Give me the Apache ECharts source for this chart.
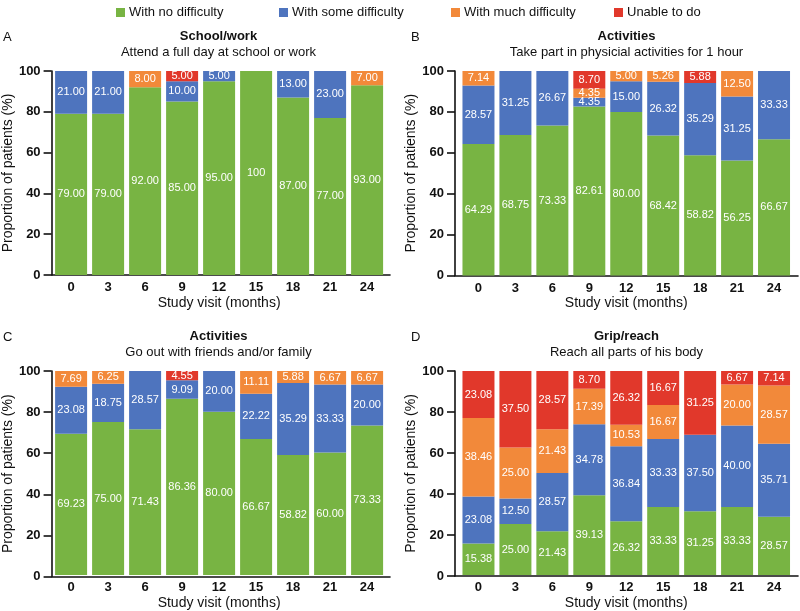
<!DOCTYPE html>
<html>
<head>
<meta charset="utf-8">
<script src="https://cdn.jsdelivr.net/npm/echarts@6/dist/echarts.min.js"></script>
<style>html,body{margin:0;padding:0;background:#fff}#c{width:800px;height:611px}</style>
</head>
<body>
<div id="c"></div>
<script>
const months = ['0', '3', '6', '9', '12', '15', '18', '21', '24'];
const seriesNames = ['With no difficulty', 'With some difficulty', 'With much difficulty', 'Unable to do'];

// Panel A: School/work
const aNone   = [79, 79, 92, 85, 95, 100, 87, 77, 93];
const aSome   = [21, 21, 0, 10, 5, 0, 13, 23, 0];
const aMuch   = [0, 0, 8, 0, 0, 0, 0, 0, 7];
const aUnable = [0, 0, 0, 5, 0, 0, 0, 0, 0];

// Panel B: Activities - physical
const bNone   = [64.29, 68.75, 73.33, 82.61, 80.00, 68.42, 58.82, 56.25, 66.67];
const bSome   = [28.57, 31.25, 26.67, 4.35, 15.00, 26.32, 35.29, 31.25, 33.33];
const bMuch   = [7.14, 0, 0, 4.35, 5.00, 5.26, 0, 12.50, 0];
const bUnable = [0, 0, 0, 8.70, 0, 0, 5.88, 0, 0];

// Panel C: Activities - go out
const cNone   = [69.23, 75.00, 71.43, 86.36, 80.00, 66.67, 58.82, 60.00, 73.33];
const cSome   = [23.08, 18.75, 28.57, 9.09, 20.00, 22.22, 35.29, 33.33, 20.00];
const cMuch   = [7.69, 6.25, 0, 0, 0, 11.11, 5.88, 6.67, 6.67];
const cUnable = [0, 0, 0, 4.55, 0, 0, 0, 0, 0];

// Panel D: Grip/reach
const dNone   = [15.38, 25.00, 21.43, 39.13, 26.32, 33.33, 31.25, 33.33, 28.57];
const dSome   = [23.08, 12.50, 28.57, 34.78, 36.84, 33.33, 37.50, 40.00, 35.71];
const dMuch   = [38.46, 25.00, 21.43, 17.39, 10.53, 16.67, 0, 20.00, 28.57];
const dUnable = [23.08, 37.50, 28.57, 8.70, 26.32, 16.67, 31.25, 6.67, 7.14];

const panelLetters = ['A', 'B', 'C', 'D'];
const panelTitles = ['School/work', 'Activities', 'Activities', 'Grip/reach'];
const panelSubtitles = ['Attend a full day at school or work', 'Take part in physicial activities for 1 hour', 'Go out with friends and/or family', 'Reach all parts of his body'];

const colors = ['#78b443', '#4e74be', '#f2893a', '#e1382b'];
const FONT = 'Liberation Sans, Arial, Helvetica, sans-serif';

const panelData = [
  [aNone, aSome, aMuch, aUnable],
  [bNone, bSome, bMuch, bUnable],
  [cNone, cSome, cMuch, cUnable],
  [dNone, dSome, dMuch, dUnable]
];

// layout (pixels): frame = axis box, bars = category band area
const frames = [
  {left: 47, top: 71, width: 343, height: 204},
  {left: 455, top: 71, width: 343, height: 204.5},
  {left: 47, top: 371, width: 343, height: 205.5},
  {left: 455, top: 371, width: 343, height: 205}
];
const barBoxes = [
  {left: 52.6, width: 333},
  {left: 460, width: 332.5},
  {left: 52.6, width: 333},
  {left: 460, width: 332.5}
];
const legendLefts = [116, 279, 451, 614];

const grids = [], xAxes = [], yAxes = [], series = [], titles = [];
const axisColor = '#111';
frames.forEach((g, p) => {
  const cx = g.left + g.width / 2;
  // frame grid (index 2p) and bar grid (index 2p+1)
  grids.push({left: g.left, top: g.top, width: g.width, height: g.height});
  grids.push({left: barBoxes[p].left, top: g.top, width: barBoxes[p].width, height: g.height});

  titles.push({text: panelLetters[p], left: g.left - 44, top: g.top - 40, padding: 0,
    textStyle: {fontFamily: FONT, fontSize: 13, fontWeight: 'normal', color: '#111'}});
  titles.push({text: panelTitles[p], left: cx, top: g.top - 41, textAlign: 'center', padding: 0,
    textStyle: {fontFamily: FONT, fontSize: 13, fontWeight: 'bold', color: '#111'}});
  titles.push({text: panelSubtitles[p], left: cx, top: g.top - 25, textAlign: 'center', padding: 0,
    textStyle: {fontFamily: FONT, fontSize: 13, fontWeight: 'normal', color: '#111'}});

  // frame axes: visible x line (no labels), visible y axis
  xAxes.push({
    type: 'value', gridIndex: 2 * p, min: 0, max: 1,
    axisLine: {show: true, onZero: false, lineStyle: {color: axisColor, width: 1.6}},
    axisTick: {show: false}, axisLabel: {show: false}, splitLine: {show: false}
  });
  yAxes.push({
    type: 'value', gridIndex: 2 * p, min: 0, max: 100, interval: 20,
    name: 'Proportion of patients (%)', nameLocation: 'middle', nameGap: 32,
    nameTextStyle: {fontFamily: FONT, fontSize: 14, color: '#111'},
    axisLine: {show: true, onZero: false, lineStyle: {color: axisColor, width: 1.6}},
    axisTick: {show: true, length: 8, lineStyle: {color: axisColor, width: 1.6}},
    splitLine: {show: false},
    axisLabel: {margin: 11, fontFamily: FONT, fontSize: 13, fontWeight: 'bold', color: '#111'}
  });
  // bar axes: category x with labels only, hidden y 0-100
  xAxes.push({
    type: 'category', gridIndex: 2 * p + 1, data: months,
    name: 'Study visit (months)', nameLocation: 'middle', nameGap: 21,
    nameTextStyle: {fontFamily: FONT, fontSize: 14, color: '#111'},
    axisLine: {show: false}, axisTick: {show: false}, splitLine: {show: false},
    axisLabel: {margin: 6, fontFamily: FONT, fontSize: 13, fontWeight: 'bold', color: '#111'}
  });
  yAxes.push({
    type: 'value', gridIndex: 2 * p + 1, min: 0, max: 100, show: false, splitLine: {show: false}
  });

  panelData[p].forEach((vals, s) => {
    series.push({
      type: 'bar', name: seriesNames[s], xAxisIndex: 2 * p + 1, yAxisIndex: 2 * p + 1,
      stack: 'panel' + p, barWidth: 32,
      itemStyle: {color: colors[s]},
      label: {
        show: true, position: 'inside', color: '#fff', fontFamily: FONT, fontSize: 11,
        formatter: (prm) => {
          const v = prm.value;
          if (!v) return '';
          return v === 100 ? '100' : v.toFixed(2);
        }
      },
      data: vals
    });
  });
});

const legends = seriesNames.map((n, i) => ({
  data: [{name: n, icon: 'rect'}],
  left: legendLefts[i], top: 6, padding: 0, itemWidth: 9, itemHeight: 9, itemGap: 0,
  textStyle: {fontFamily: FONT, fontSize: 13, color: '#111', padding: [0, 0, 0, -1]}
}));

const chart = echarts.init(document.getElementById('c'), null, {renderer: 'canvas'});
chart.setOption({
  animation: false,
  backgroundColor: '#fff',
  color: colors,
  title: titles,
  legend: legends,
  grid: grids,
  xAxis: xAxes,
  yAxis: yAxes,
  series: series
});
</script>
</body>
</html>
